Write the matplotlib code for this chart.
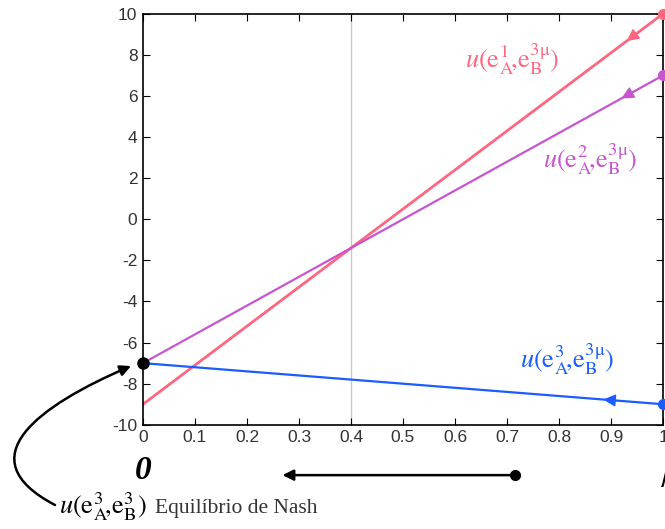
import numpy as np
import matplotlib.pyplot as plt
from matplotlib.path import Path
from matplotlib.patches import FancyArrowPatch

plt.rcParams['mathtext.fontset'] = 'stix'
plt.rcParams['axes.unicode_minus'] = False

# payoff lines: value at mu=0 and mu=1
mu_ends = [0.0, 1.0]
u1 = [-9.0, 10.0]   # u(e_A^1, e_B^3mu)
u2 = [-7.0, 7.0]    # u(e_A^2, e_B^3mu)
u3 = [-7.0, -9.0]   # u(e_A^3, e_B^3mu)
arrow_mu = [0.93, 0.92, 0.885]
nash_mu, nash_u = 0.0, -7.0
cut_mu = 0.4

colors = ['#ff6680', '#c855d0', '#1a5cff']
labels = [r'$u(\mathrm{e}_{\mathrm{A}}^{1}\!,\!\mathrm{e}_{\mathrm{B}}^{3\mathrm{\mu}})$',
          r'$u(\mathrm{e}_{\mathrm{A}}^{2}\!,\!\mathrm{e}_{\mathrm{B}}^{3\mathrm{\mu}})$',
          r'$u(\mathrm{e}_{\mathrm{A}}^{3}\!,\!\mathrm{e}_{\mathrm{B}}^{3\mathrm{\mu}})$']
label_pos = [(0.62, 7.8), (0.77, 2.9), (0.725, -6.8)]

fig = plt.figure(figsize=(6.65, 5.29), dpi=100)
ax = fig.add_axes([0.215, 0.197, 0.782, 0.777])

ax.axvline(cut_mu, color='#c8c8c8', lw=1, zorder=1)

for ys, c, lab, pos, am, lw in zip([u1, u2, u3], colors, labels, label_pos, arrow_mu, [2.0, 1.6, 1.6]):
    ax.plot(mu_ends, ys, color=c, lw=lw, zorder=2)
    ax.plot(mu_ends[1], ys[1], 'o', color=c, ms=7, clip_on=False, zorder=3)
    f = lambda m: ys[0] + (ys[1] - ys[0]) * m
    ax.annotate('', xy=(am, f(am)), xytext=(am + 0.03, f(am + 0.03)),
                arrowprops=dict(arrowstyle='-|>,head_length=0.5,head_width=0.25',
                                color=c, lw=1, mutation_scale=15, shrinkA=0, shrinkB=0))
    ax.text(pos[0], pos[1], lab, color=c, fontsize=19, ha='left', va='center')

ax.plot(nash_mu, nash_u, 'o', color='black', ms=8, clip_on=False, zorder=4)

ax.set_xlim(0, 1)
ax.set_ylim(-10, 10)
ax.set_xticks(np.arange(0, 1.01, 0.1))
ax.set_xticklabels(['0', '0.1', '0.2', '0.3', '0.4', '0.5', '0.6', '0.7', '0.8', '0.9', '1'])
ax.set_yticks(np.arange(-10, 11, 2))
ax.tick_params(direction='in', top=True, right=True, length=5, labelsize=12.5,
               labelcolor='#333333', pad=4)
for t in ax.get_xticklabels() + ax.get_yticklabels():
    t.set_family('Liberation Sans')
for s in ax.spines.values():
    s.set_linewidth(1.2)

# under-axis annotations
ax.text(0.0, -12.2, '0', family='Liberation Serif', style='italic', weight='bold',
        fontsize=24, ha='center', va='center')
ax.text(0.995, -12.3, r'$\mu$', fontsize=24, ha='left', va='center')
ax.annotate('', xy=(0.263, -12.45), xytext=(0.715, -12.45), annotation_clip=False,
            arrowprops=dict(arrowstyle='-|>', color='black', lw=1.8, mutation_scale=16))
ax.plot(0.715, -12.45, 'o', color='black', ms=7, clip_on=False)

fig.text(0.088, 0.043, r'$u(\mathrm{e}_{\mathrm{A}}^{3}\!,\!\mathrm{e}_{\mathrm{B}}^{3})$',
         fontsize=19, ha='left', va='center')
fig.text(0.233, 0.038, 'Equilíbrio de Nash', family='Liberation Serif',
         fontsize=15.5, color='#333333', ha='left', va='center')

# curved arrow from the label up to the Nash point (figure fractions)
W, H = 665.0, 529.0
pts = [(55, 505), (-35, 458), (40, 405), (131, 366)]
verts = [(px / W, 1 - py / H) for px, py in pts]
curve = Path(verts, [Path.MOVETO, Path.CURVE4, Path.CURVE4, Path.CURVE4])
fig.patches.append(FancyArrowPatch(path=curve, transform=fig.transFigure,
                                   arrowstyle='-|>', color='black', lw=1.8,
                                   mutation_scale=16, shrinkA=0, shrinkB=0))

fig.savefig('out.png', dpi=100)
